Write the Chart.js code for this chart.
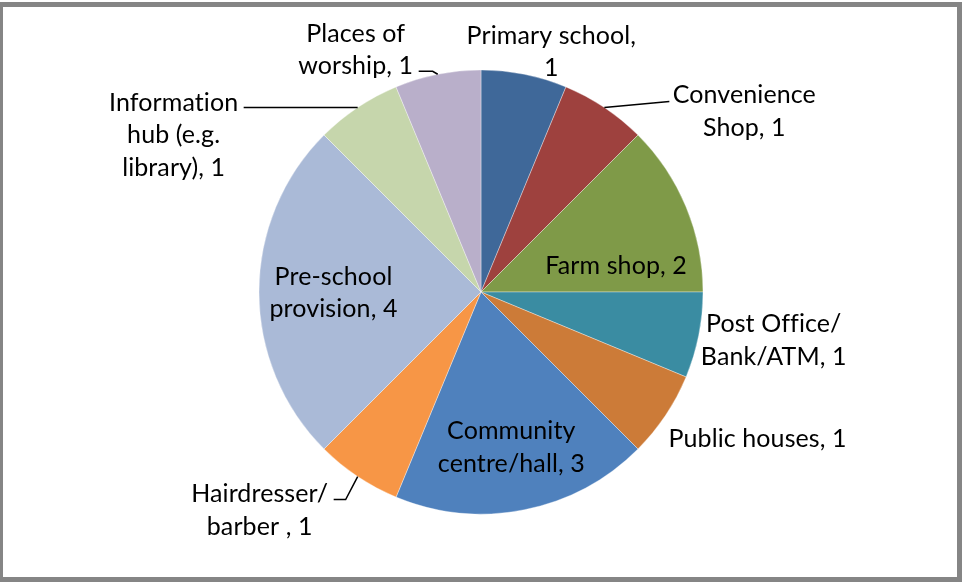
<!DOCTYPE html>
<html>
<head>
<meta charset="utf-8">
<title>Facilities</title>
<script src="https://cdn.jsdelivr.net/npm/chart.js@4/dist/chart.umd.min.js"></script>
<style>
  body { margin: 0; background: #fff; }
  #wrap { position: relative; width: 966px; height: 582px; overflow: hidden; }
  #frame {
    position: absolute; left: -2px; top: 2px; width: 964px; height: 580px;
    box-sizing: border-box; border: 5px solid #858585; pointer-events: none;
  }
</style>
</head>
<body>
<div id="wrap">
  <canvas id="facilitiesPie" width="966" height="582"></canvas>
  <div id="frame"></div>
</div>
<script>
const categories = [
  'Primary school',
  'Convenience Shop',
  'Farm shop',
  'Post Office/Bank/ATM',
  'Public houses',
  'Community centre/hall',
  'Hairdresser/barber ',
  'Pre-school provision',
  'Information hub (e.g. library)',
  'Places of worship'
];
const counts = [1, 1, 2, 1, 1, 3, 1, 4, 1, 1];

const sliceColors = [
  '#3F6899', '#9E413E', '#7F9A48', '#3A8CA2', '#CC7B38',
  '#4F81BD', '#F79646', '#AABAD7', '#C6D6AC', '#B9AFCA'
];

// words per line for each label
const lineSplits = [[2, 1], [1, 2], [3], [2, 3], [3], [1, 3], [1, 3], [1, 2], [1, 2, 2], [2, 2]];
// label centre, relative to the middle of the slice's rim
const labelOffsets = [
  [27, -23], [140, 3], [-70, 58], [75, 4], [92, 23],
  [-13, -63], [-98, 33], [74.5, 0], [-184, 27], [-82, -25]
];
// leader line points, relative to the middle of the slice's rim
const leaders = {
  1: [[65, -6]],
  6: [[-12, 23], [-24, 23]],
  8: [[-114, 0]],
  9: [[-5, -3], [-19, -3]]
};

const FONT_SIZE = 25;
const LINE_H = 32.5;
const CAP_H = FONT_SIZE * 0.7165;

function splitLines(text, counts) {
  const words = text.match(/[^ \/]*\/?\s*/g).filter(w => w.length);
  const out = [];
  let k = 0;
  counts.forEach(n => {
    out.push(words.slice(k, k + n).join('').trim());
    k += n;
  });
  return out;
}

const sliceLabels = {
  id: 'sliceLabels',
  afterDatasetsDraw(chart) {
    const ctx = chart.ctx;
    const meta = chart.getDatasetMeta(0);
    ctx.save();
    ctx.font = FONT_SIZE + 'px Lato';
    // a tiny spacing keeps Lato from joining "ti" into a ligature
    ctx.letterSpacing = '0.1px';
    ctx.fillStyle = '#000';
    ctx.strokeStyle = '#000';
    ctx.lineWidth = 1.5;
    ctx.textAlign = 'center';
    ctx.textBaseline = 'alphabetic';

    meta.data.forEach((arc, i) => {
      const p = arc.getProps(['x', 'y', 'startAngle', 'endAngle', 'outerRadius'], true);
      const mid = (p.startAngle + p.endAngle) / 2;
      const ex = p.x + Math.cos(mid) * p.outerRadius;
      const ey = p.y + Math.sin(mid) * p.outerRadius;

      if (leaders[i]) {
        ctx.beginPath();
        ctx.moveTo(ex, ey);
        leaders[i].forEach(pt => ctx.lineTo(ex + pt[0], ey + pt[1]));
        ctx.stroke();
      }

      const text = categories[i] + ', ' + counts[i];
      const lines = splitLines(text, lineSplits[i]);
      const cx = ex + labelOffsets[i][0];
      const cy = ey + labelOffsets[i][1];
      lines.forEach((line, k) => {
        const lineMid = cy + (k - (lines.length - 1) / 2) * LINE_H;
        ctx.fillText(line, cx, lineMid + CAP_H / 2);
      });
    });
    ctx.restore();
  }
};

new Chart(document.getElementById('facilitiesPie'), {
  type: 'pie',
  data: {
    labels: categories,
    datasets: [{
      data: counts,
      backgroundColor: sliceColors,
      borderColor: 'rgba(255,255,255,0.7)',
      borderWidth: 0.5
    }]
  },
  options: {
    responsive: false,
    animation: false,
    radius: 222,
    layout: { padding: { top: 70, bottom: 68, left: 0, right: 4 } },
    plugins: {
      legend: { display: false },
      tooltip: { enabled: false }
    }
  },
  plugins: [sliceLabels]
});
</script>
</body>
</html>
